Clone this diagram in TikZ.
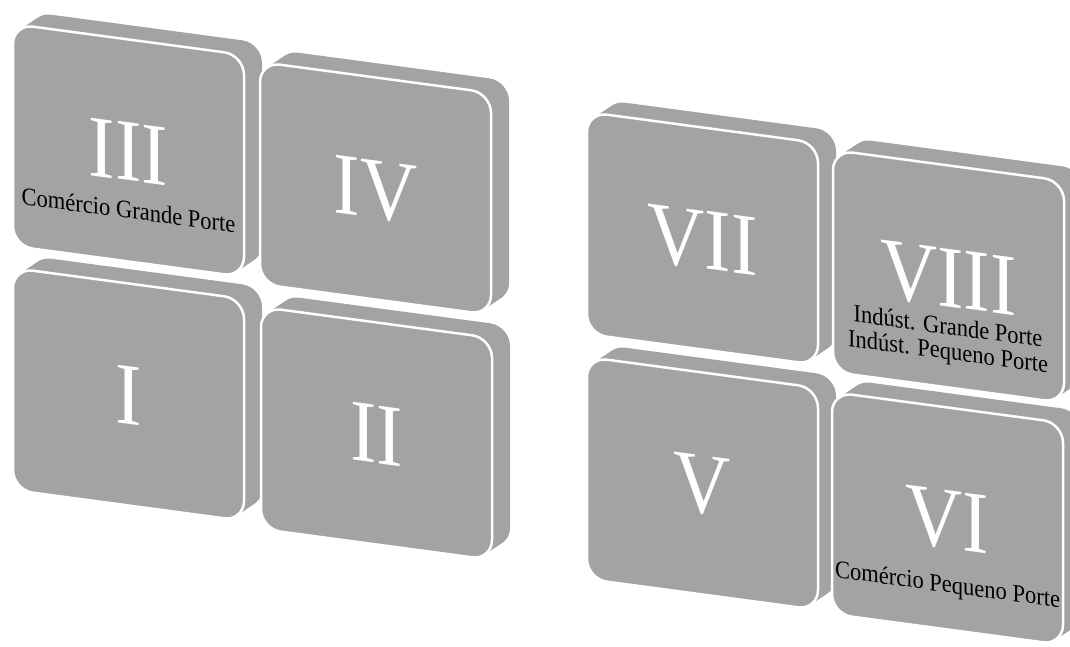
\documentclass[tikz,border=0pt]{standalone}
\usepackage{fontspec}
\setmainfont{Liberation Serif}
\definecolor{tilegray}{RGB}{163,163,163}
\tikzset{
  tileat/.style 2 args={shift={(#1pt,-#2pt)}, cm={1,-0.134,0,1,(0,0)}},
  tileface/.style={fill=tilegray, draw=white, line width=2.5pt, rounded corners=20pt},
  tileback/.style={fill=tilegray, rounded corners=20pt},
  numeral/.style={text=white, font=\fontsize{88}{88}\selectfont, xscale=0.9, transform shape, anchor=base, inner sep=0pt},
  tilelabel/.style={text=black, font=\fontsize{25}{25}\selectfont, xscale=0.9, transform shape, anchor=base, inner sep=0pt},
}
\newcommand\drawtile[4]{%
  \foreach \k in {12,11,...,1}{%
    \begin{scope}[shift={(\k*1.5pt,\k*1pt)}]
      \begin{scope}[tileat={#1}{#2}]
        \path[tileback] (0,0) rectangle (231pt,-222pt);
      \end{scope}
    \end{scope}
  }
  \begin{scope}[tileat={#1}{#2}]
    \path[tileface] (0,0) rectangle (231pt,-222pt);
    \node[numeral] (#3) at (115.5pt,-141pt) {#4};
  \end{scope}
}
\begin{document}
\begin{tikzpicture}
\useasboundingbox (0,0) rectangle (1070pt,-646pt);
% left group
\drawtile{13}{268}{tI}{I}
\drawtile{261}{307}{tII}{II}
\drawtile{13}{24}{tIII}{III}
\drawtile{260}{62}{tIV}{IV}
\begin{scope}[tileat={13}{24}]
  \node[tilelabel] (lIII) at (115.5pt,-179pt) {Comércio Grande Porte};
\end{scope}
% right group
\drawtile{587}{357}{tV}{V}
\drawtile{832}{392}{tVI}{VI}
\drawtile{587}{112}{tVII}{VII}
\drawtile{833}{150}{tVIII}{VIII}
\begin{scope}[tileat={833}{150}]
  \node[tilelabel] (lVIIIa) at (115pt,-169pt) {Indúst. Grande Porte};
  \node[tilelabel] (lVIIIb) at (115pt,-194pt) {Indúst. Pequeno Porte};
\end{scope}
\begin{scope}[tileat={832}{392}]
  \node[tilelabel] (lVI) at (115.5pt,-185pt) {Comércio Pequeno Porte};
\end{scope}
\end{tikzpicture}
\end{document}
